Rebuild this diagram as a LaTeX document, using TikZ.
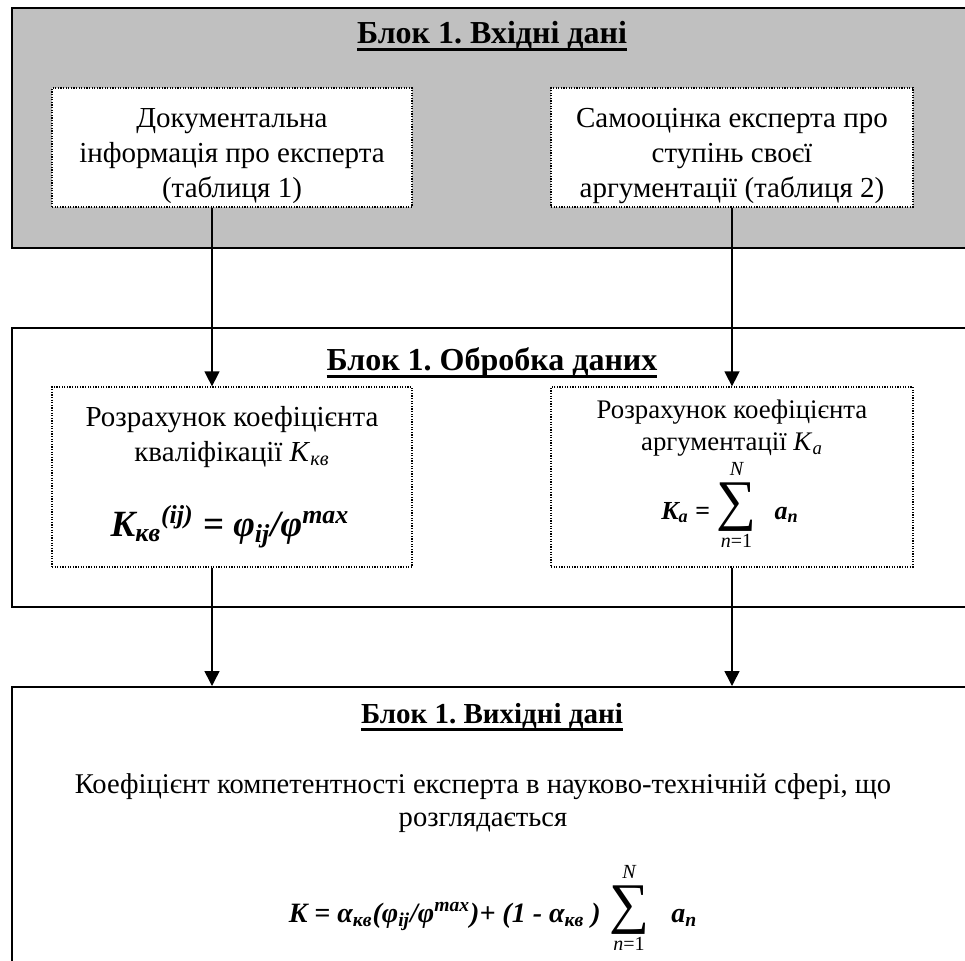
\documentclass[tikz,border=0pt]{standalone}
\usepackage{fontspec}
\setmainfont{Liberation Serif}
\usetikzlibrary{arrows.meta,fit}
\frenchspacing
\definecolor{blockgray}{HTML}{C0C0C0}
\newcommand{\ulbf}[1]{\setbox0\hbox{\bfseries #1}\rlap{\copy0}\rule[-4pt]{\wd0}{1.4pt}}
\newcommand{\lsum}[2]{\ensuremath{\mathop{\hbox{\fontsize{#1}{#1}\selectfont\mdseries\upshape ∑}}\limits_{\hbox{\fontsize{#2}{#2}\selectfont\mdseries\itshape n\upshape=1}}^{\raisebox{1.5pt}{\fontsize{#2}{#2}\selectfont\mdseries\itshape N}}}}
\tikzset{
  blk/.style={draw=black, line width=1pt, inner sep=0pt},
  dbox/.style={draw=black, fill=white, line width=0.65pt, dash pattern=on 0.6pt off 0.7pt, inner sep=0pt},
  txt/.style={align=center, font=\fontsize{14.5}{17.5}\selectfont, inner sep=0pt},
  stxt/.style={align=center, font=\fontsize{13.4}{16}\selectfont, inner sep=0pt},
  btxt/.style={align=center, font=\fontsize{14.3}{16.2}\selectfont, inner sep=0pt},
  ttl/.style={font=\fontsize{16}{18}\selectfont, inner sep=0pt, anchor=base},
  fml/.style={inner sep=0pt, anchor=base},
  arr/.style={-{Triangle[length=7.5pt,width=7.5pt]}, line width=0.75pt},
}
\begin{document}
\begin{tikzpicture}[x=0.5pt,y=-0.5pt]
\useasboundingbox (0,0) rectangle (965,960);
\clip (0,0) rectangle (965,960);
% blocks
\node[blk, fill=blockgray, fit={(12,8) (980,248)}] (b1) {};
\node[blk, fill=white, fit={(12,328) (980,607)}] (b2) {};
\node[blk, fill=white, fit={(12,687) (980,980)}] (b3) {};
% titles
\node[ttl] (t1) at (492,43) {\ulbf{Блок 1. Вхідні дані}};
\node[ttl] (t2) at (492,370) {\ulbf{Блок 1. Обробка даних}};
\node[ttl, font=\fontsize{14.5}{17}\selectfont] (t3) at (492,723) {\ulbf{Блок 1. Вихідні дані}};
% inner boxes
\node[dbox, fit={(52,88) (412,207)}] (tl) {};
\node[dbox, fit={(551,88) (913,207)}] (tr) {};
\node[dbox, fit={(52,387) (412,567)}] (ml) {};
\node[dbox, fit={(551,387) (913,567)}] (mr) {};
% texts
\node[txt] (tlt) at (232,156) {Документальна\\інформація про експерта\\(таблиця 1)};
\node[txt] (trt) at (732,156) {Самооцінка експерта про\\ступінь своєї\\аргументації (таблиця 2)};
\node[txt] (mlt) at (232,437) {Розрахунок коефіцієнта\\кваліфікації \textit{K}\textsubscript{\textit{кв}}};
\node[fml] (mlf) at (230,536) {\fontsize{18.5}{20}\selectfont\bfseries\itshape K\textsubscript{кв}\textsuperscript{(ij)} = φ\textsubscript{ij}/φ\textsuperscript{max}};
\node[stxt] (mrt) at (732,428) {Розрахунок коефіцієнта\\аргументації \textit{K}\textsubscript{\textit{a}}};
\node[fml] (mrf) at (730,519) {\fontsize{13}{15}\selectfont\bfseries\itshape K\textsubscript{a} = \lsum{28}{10}\hspace{0.7em}a\textsubscript{n}};
\node[btxt] (b3t) at (483,803) {Коефіцієнт компетентності експерта в науково-технічній сфері, що\\розглядається};
\node[fml] (b3f) at (493,922) {\fontsize{14}{16}\selectfont\bfseries\itshape K = α\textsubscript{кв}(φ\textsubscript{ij}/φ\textsuperscript{max})+ (1 - α\textsubscript{кв} )\hspace{0.3em}\lsum{28}{10}\hspace{0.8em}a\textsubscript{n}};
% connectors
\coordinate (ax1) at (212,0);
\coordinate (ax2) at (732,0);
\draw[arr] (tl.south -| ax1) -- (ml.north -| ax1);
\draw[arr] (tr.south -| ax2) -- (mr.north -| ax2);
\draw[arr] (ml.south -| ax1) -- (b3.north -| ax1);
\draw[arr] (mr.south -| ax2) -- (b3.north -| ax2);
\end{tikzpicture}
\end{document}
